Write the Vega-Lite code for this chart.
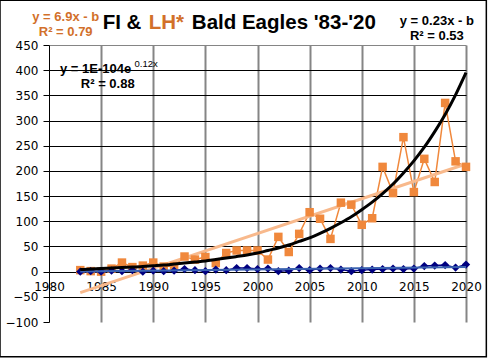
{
  "$schema": "https://vega.github.io/schema/vega-lite/v6.json",
  "autosize": "none",
  "width": 417,
  "height": 277,
  "padding": {"left": 49, "top": 45, "right": 23, "bottom": 38},
  "background": "white",
  "config": {"view": {"stroke": null}},
  "resolve": {"axis": {"x": "independent", "y": "independent"}},
  "data": {"values": [
    {"year": 1983, "lh": 3, "fi": 0, "fit": 4},
    {"year": 1984, "lh": 1, "fi": 1, "fit": 5},
    {"year": 1985, "lh": 0, "fi": 0, "fit": 6},
    {"year": 1986, "lh": 6, "fi": 2, "fit": 7},
    {"year": 1987, "lh": 18, "fi": 1, "fit": 8},
    {"year": 1988, "lh": 9, "fi": 3, "fit": 9},
    {"year": 1989, "lh": 12, "fi": 0, "fit": 10},
    {"year": 1990, "lh": 18, "fi": 2, "fit": 11.5},
    {"year": 1991, "lh": 10, "fi": 1, "fit": 13},
    {"year": 1992, "lh": 11, "fi": 2, "fit": 15},
    {"year": 1993, "lh": 30, "fi": 5, "fit": 17},
    {"year": 1994, "lh": 24, "fi": 3, "fit": 19},
    {"year": 1995, "lh": 29, "fi": 1, "fit": 21},
    {"year": 1996, "lh": 17, "fi": 4, "fit": 24},
    {"year": 1997, "lh": 37, "fi": 3, "fit": 27},
    {"year": 1998, "lh": 42, "fi": 7, "fit": 30},
    {"year": 1999, "lh": 42, "fi": 7, "fit": 33},
    {"year": 2000, "lh": 42, "fi": 5, "fit": 37},
    {"year": 2001, "lh": 24, "fi": 6, "fit": 42},
    {"year": 2002, "lh": 69, "fi": 1, "fit": 47},
    {"year": 2003, "lh": 39, "fi": 2, "fit": 53},
    {"year": 2004, "lh": 75, "fi": 7, "fit": 60},
    {"year": 2005, "lh": 118, "fi": 3, "fit": 67},
    {"year": 2006, "lh": 105, "fi": 6, "fit": 76},
    {"year": 2007, "lh": 65, "fi": 7, "fit": 86},
    {"year": 2008, "lh": 137, "fi": 4, "fit": 97},
    {"year": 2009, "lh": 133, "fi": 1, "fit": 109},
    {"year": 2010, "lh": 93, "fi": 3, "fit": 123},
    {"year": 2011, "lh": 106, "fi": 4, "fit": 138},
    {"year": 2012, "lh": 208, "fi": 5, "fit": 155},
    {"year": 2013, "lh": 156, "fi": 6, "fit": 174},
    {"year": 2014, "lh": 267, "fi": 5, "fit": 196},
    {"year": 2015, "lh": 158, "fi": 6, "fit": 220},
    {"year": 2016, "lh": 224, "fi": 11, "fit": 247},
    {"year": 2017, "lh": 178, "fi": 12, "fit": 278},
    {"year": 2018, "lh": 335, "fi": 13, "fit": 312},
    {"year": 2019, "lh": 219, "fi": 8, "fit": 351},
    {"year": 2020, "lh": 208, "fi": 14, "fit": 395}
  ]},
  "layer": [
    {
      "mark": {"type": "line", "color": "#F0883C", "strokeWidth": 1.5},
      "encoding": {
        "x": {
          "field": "year", "type": "quantitative",
          "scale": {"domain": [1980, 2020], "nice": false, "zero": false},
          "axis": {
            "orient": "bottom",
            "title": null, "values": [1980, 1985, 1990, 1995, 2000, 2005, 2010, 2015, 2020],
            "format": "d", "offset": -50, "ticks": false, "labelPadding": 9,
            "labelFont": "DejaVu Sans", "labelFontSize": 12, "labelColor": "black",
            "labelFlush": false, "labelOverlap": false,
            "domainColor": "black", "domainWidth": 1,
            "grid": true, "gridWidth": 2,
            "gridColor": {"condition": {"test": "datum.value == 1980", "value": "transparent"}, "value": "#858585"}
          }
        },
        "y": {
          "field": "lh", "type": "quantitative",
          "scale": {"domain": [-100, 450], "nice": false, "zero": false},
          "axis": {
            "orient": "left",
            "title": null,
            "values": [-100, -50, 0, 50, 100, 150, 200, 250, 300, 350, 400, 450],
            "labelFont": "DejaVu Sans", "labelFontSize": 12, "labelColor": "black",
            "labelPadding": 5, "tickSize": 6, "tickColor": "black", "tickWidth": 1,
            "domainColor": "black", "domainWidth": 1, "labelFlush": false, "labelOverlap": false,
            "grid": true, "gridWidth": 1,
            "gridColor": {"condition": {"test": "datum.value == 450", "value": "#858585"}, "value": "black"},
            "gridOpacity": {"condition": {"test": "datum.value == -100", "value": 0}, "value": 1}
          }
        }
      }
    },
    {
      "transform": [{"regression": "lh", "on": "year", "extent": [1983, 2020]}],
      "mark": {"type": "line", "color": "#F8B98C", "strokeWidth": 3},
      "encoding": {
        "x": {"field": "year", "type": "quantitative", "axis": null},
        "y": {"field": "lh", "type": "quantitative", "axis": null}
      }
    },
    {
      "mark": {"type": "point", "shape": "square", "filled": true, "size": 72, "color": "#F0883C", "opacity": 1},
      "encoding": {
        "x": {"field": "year", "type": "quantitative", "axis": null},
        "y": {"field": "lh", "type": "quantitative", "axis": null}
      }
    },
    {
      "mark": {"type": "line", "color": "#000080", "strokeWidth": 1.5},
      "encoding": {
        "x": {"field": "year", "type": "quantitative", "axis": null},
        "y": {"field": "fi", "type": "quantitative", "axis": null}
      }
    },
    {
      "mark": {"type": "point", "shape": "diamond", "filled": true, "size": 70, "color": "#000080", "opacity": 1},
      "encoding": {
        "x": {"field": "year", "type": "quantitative", "axis": null},
        "y": {"field": "fi", "type": "quantitative", "axis": null}
      }
    },
    {
      "transform": [{"regression": "fi", "on": "year", "extent": [1983, 2020]}],
      "mark": {"type": "line", "color": "#3A62B0", "strokeWidth": 2},
      "encoding": {
        "x": {"field": "year", "type": "quantitative", "axis": null},
        "y": {"field": "fi", "type": "quantitative", "axis": null}
      }
    },
    {
      "mark": {"type": "line", "color": "black", "strokeWidth": 3, "interpolate": "monotone"},
      "encoding": {
        "x": {"field": "year", "type": "quantitative", "axis": null},
        "y": {"field": "fit", "type": "quantitative", "axis": null}
      }
    },
    {
      "data": {"values": [{"t": "FI &"}]},
      "mark": {"type": "text", "align": "left", "baseline": "alphabetic", "font": "Liberation Sans", "fontSize": 20.5, "fontWeight": "bold", "color": "black"},
      "encoding": {"x": {"datum": 1985.15, "axis": null}, "y": {"datum": 481, "axis": null}, "text": {"field": "t"}}
    },
    {
      "data": {"values": [{"t": "LH*"}]},
      "mark": {"type": "text", "align": "left", "baseline": "alphabetic", "font": "Liberation Sans", "fontSize": 20.5, "fontWeight": "bold", "color": "#D2702A"},
      "encoding": {"x": {"datum": 1989.57, "axis": null}, "y": {"datum": 481, "axis": null}, "text": {"field": "t"}}
    },
    {
      "data": {"values": [{"t": "Bald Eagles '83-'20"}]},
      "mark": {"type": "text", "align": "left", "baseline": "alphabetic", "font": "Liberation Sans", "fontSize": 20.5, "fontWeight": "bold", "color": "black"},
      "encoding": {"x": {"datum": 1993.7, "axis": null}, "y": {"datum": 481, "axis": null}, "text": {"field": "t"}}
    },
    {
      "data": {"values": [{"t": "y = 6.9x - b", "v": 498}, {"t": "R² = 0.79", "v": 467}]},
      "mark": {"type": "text", "align": "center", "baseline": "alphabetic", "font": "Liberation Sans", "fontSize": 13, "fontWeight": "bold", "color": "#D2702A"},
      "encoding": {"x": {"datum": 1981.6, "axis": null}, "y": {"field": "v", "type": "quantitative", "axis": null}, "text": {"field": "t"}}
    },
    {
      "data": {"values": [{"t": "y = 0.23x - b", "v": 490}, {"t": "R² = 0.53", "v": 460}]},
      "mark": {"type": "text", "align": "center", "baseline": "alphabetic", "font": "Liberation Sans", "fontSize": 13, "fontWeight": "bold", "color": "black"},
      "encoding": {"x": {"datum": 2017.2, "axis": null}, "y": {"field": "v", "type": "quantitative", "axis": null}, "text": {"field": "t"}}
    },
    {
      "data": {"values": [{"t": "y = 1E-104e"}]},
      "mark": {"type": "text", "align": "left", "baseline": "alphabetic", "font": "Liberation Sans", "fontSize": 13, "fontWeight": "bold", "color": "black"},
      "encoding": {"x": {"datum": 1981.05, "axis": null}, "y": {"datum": 394, "axis": null}, "text": {"field": "t"}}
    },
    {
      "data": {"values": [{"t": "0.12x"}]},
      "mark": {"type": "text", "align": "left", "baseline": "alphabetic", "font": "Liberation Sans", "fontSize": 9.5, "color": "black"},
      "encoding": {"x": {"datum": 1988.2, "axis": null}, "y": {"datum": 406, "axis": null}, "text": {"field": "t"}}
    },
    {
      "data": {"values": [{"t": "R² = 0.88"}]},
      "mark": {"type": "text", "align": "left", "baseline": "alphabetic", "font": "Liberation Sans", "fontSize": 13, "fontWeight": "bold", "color": "black"},
      "encoding": {"x": {"datum": 1983.05, "axis": null}, "y": {"datum": 364, "axis": null}, "text": {"field": "t"}}
    },
    {
      "data": {"values": [{"t": "frame"}]},
      "mark": {"type": "rect", "fill": "transparent", "stroke": "black", "strokeWidth": 1.5},
      "encoding": {"x": {"datum": 1975.3, "axis": null}, "x2": {"datum": 2021.95}, "y": {"datum": 539, "axis": null}, "y2": {"datum": -169}}
    }
  ]
}
